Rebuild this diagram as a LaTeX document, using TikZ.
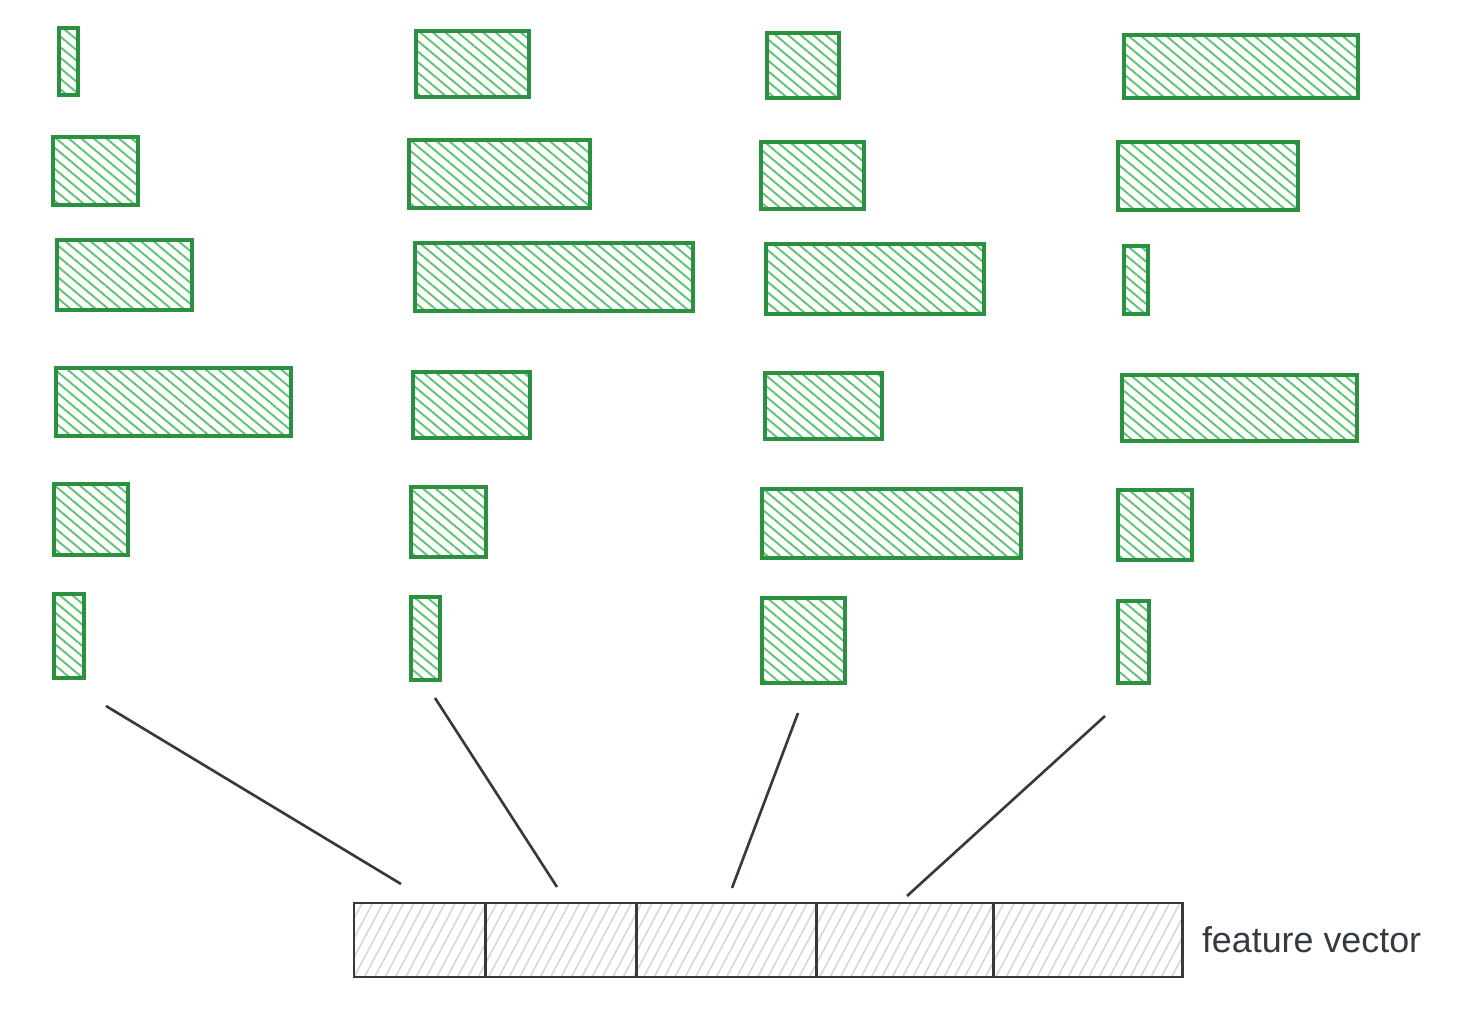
\documentclass[tikz,border=0pt]{standalone}
\usepackage{fontspec}
\setmainfont{Liberation Sans}
\usepackage{xcolor}
\usepackage{tikz}
\usetikzlibrary{patterns.meta, positioning}

\definecolor{barline}{HTML}{2B9140}
\definecolor{barhatch}{HTML}{5EC472}
\definecolor{inkgray}{HTML}{343A40}
\definecolor{cellhatch}{HTML}{D3D7DC}

\begin{document}
\begin{tikzpicture}[
		every node/.style={inner sep=0pt, outer sep=0pt},
		bar/.style={draw=barline, line width=0.95pt, anchor=north west,
			pattern={Lines[angle=-40, distance=2.3pt, line width=0.55pt]}, pattern color=barhatch},
		cell/.style={draw=inkgray, line width=0.85pt, minimum height=0.74cm,
			pattern={Lines[angle=62, distance=2.6pt, line width=0.45pt]}, pattern color=cellhatch},
		link/.style={draw=inkgray, line width=0.75pt}
		]
		
		\useasboundingbox (0,0) rectangle (14.84,-10.20);
		
		% First column
		\node[bar, minimum width=0.19cm, minimum height=0.67cm] (a1) at (0.59,-0.28) {};
		\node[bar, minimum width=0.85cm, minimum height=0.68cm] (a2) at (0.53,-1.37) {};
		\node[bar, minimum width=1.35cm, minimum height=0.70cm] (a3) at (0.57,-2.40) {};
		\node[bar, minimum width=2.35cm, minimum height=0.68cm] (a4) at (0.56,-3.68) {};
		\node[bar, minimum width=0.74cm, minimum height=0.71cm] (a5) at (0.54,-4.84) {};
		\node[bar, minimum width=0.30cm, minimum height=0.84cm] (a6) at (0.54,-5.94) {};
		
		% Second column
		\node[bar, minimum width=1.13cm, minimum height=0.66cm] (b1) at (4.16,-0.31) {};
		\node[bar, minimum width=1.81cm, minimum height=0.68cm] (b2) at (4.09,-1.40) {};
		\node[bar, minimum width=2.78cm, minimum height=0.68cm] (b3) at (4.15,-2.43) {};
		\node[bar, minimum width=1.17cm, minimum height=0.66cm] (b4) at (4.13,-3.72) {};
		\node[bar, minimum width=0.75cm, minimum height=0.70cm] (b5) at (4.11,-4.87) {};
		\node[bar, minimum width=0.29cm, minimum height=0.83cm] (b6) at (4.11,-5.97) {};
		
		% Third column
		\node[bar, minimum width=0.72cm, minimum height=0.65cm] (c1) at (7.67,-0.33) {};
		\node[bar, minimum width=1.03cm, minimum height=0.67cm] (c2) at (7.61,-1.42) {};
		\node[bar, minimum width=2.18cm, minimum height=0.70cm] (c3) at (7.66,-2.44) {};
		\node[bar, minimum width=1.17cm, minimum height=0.66cm] (c4) at (7.65,-3.73) {};
		\node[bar, minimum width=2.59cm, minimum height=0.69cm] (c5) at (7.62,-4.89) {};
		\node[bar, minimum width=0.83cm, minimum height=0.85cm] (c6) at (7.62,-5.98) {};
		
		% Fourth column
		\node[bar, minimum width=2.34cm, minimum height=0.63cm] (d1) at (11.24,-0.35) {};
		\node[bar, minimum width=1.80cm, minimum height=0.68cm] (d2) at (11.18,-1.42) {};
		\node[bar, minimum width=0.24cm, minimum height=0.68cm] (d3) at (11.24,-2.46) {};
		\node[bar, minimum width=2.35cm, minimum height=0.66cm] (d4) at (11.22,-3.75) {};
		\node[bar, minimum width=0.74cm, minimum height=0.70cm] (d5) at (11.18,-4.90) {};
		\node[bar, minimum width=0.31cm, minimum height=0.82cm] (d6) at (11.18,-6.01) {};
		
		% Feature vector
		\node[cell, minimum width=1.31cm, anchor=north west] (v1) at (3.54,-9.03) {};
		\node[cell, minimum width=1.51cm, right=0pt of v1] (v2) {};
		\node[cell, minimum width=1.80cm, right=0pt of v2] (v3) {};
		\node[cell, minimum width=1.77cm, right=0pt of v3] (v4) {};
		\node[cell, minimum width=1.89cm, right=0pt of v4] (v5) {};
		\node[right=0.2cm of v5, text=inkgray, font=\fontsize{10.2}{12}\selectfont] (label) {feature vector};
		
		% Links from columns to vector
		\coordinate (t1) at (1.06,-7.06);
		\coordinate (s1) at (4.01,-8.84);
		\coordinate (t2) at (4.35,-6.98);
		\coordinate (s2) at (5.57,-8.87);
		\coordinate (t3) at (7.98,-7.13);
		\coordinate (s3) at (7.32,-8.88);
		\coordinate (t4) at (11.05,-7.16);
		\coordinate (s4) at (9.07,-8.96);
		
		\draw[link] (t1) -- (s1);
		\draw[link] (t2) -- (s2);
		\draw[link] (t3) -- (s3);
		\draw[link] (t4) -- (s4);
		
	\end{tikzpicture}
\end{document}
